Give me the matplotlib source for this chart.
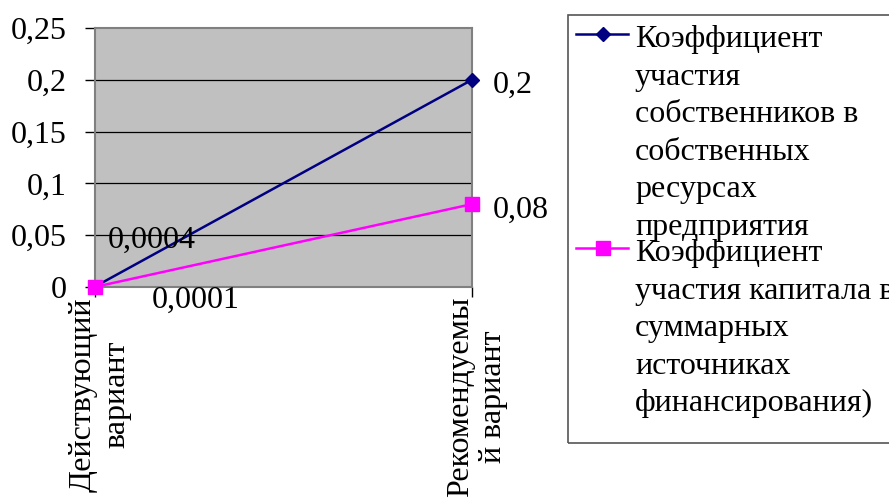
import matplotlib
matplotlib.use("Agg")
import matplotlib.pyplot as plt
from matplotlib.lines import Line2D
from matplotlib.patches import Rectangle
from matplotlib.ticker import FuncFormatter

plt.rcParams['font.family'] = ['Liberation Serif', 'DejaVu Serif']

categories = ["Действующий\nвариант", "Рекомендуемы\nй вариант"]
owners_share = [0.0004, 0.2]
capital_share = [0.0001, 0.08]
owners_labels = ["0,0004", "0,2"]
capital_labels = ["0,0001", "0,08"]
legend_owners = ["Коэффициент", "участия", "собственников в", "собственных",
                 "ресурсах", "предприятия"]
legend_capital = ["Коэффициент", "участия капитала в", "суммарных",
                  "источниках", "финансирования)"]

W, H = 889, 501
FS = 23
fig = plt.figure(figsize=(W / 100, H / 100), dpi=100)


def fx(px):
    return px / W


def fy(py):
    return 1 - py / H


ax = fig.add_axes([fx(95), fy(287), fx(472) - fx(95), fy(28) - fy(287)])
ax.set_facecolor("#C0C0C0")
for s in ax.spines.values():
    s.set_color("#808080")
    s.set_linewidth(1.5)

x = list(range(len(categories)))
ax.plot(x, owners_share, color="#000080", lw=1.8, marker="D", ms=7.5,
        clip_on=False, zorder=4)
ax.plot(x, capital_share, color="#FF00FF", lw=1.8, marker="s", ms=9.5,
        clip_on=False, zorder=4)

ax.set_xlim(0, 1)
ax.set_ylim(0, 0.25)
ax.set_yticks([0, 0.05, 0.1, 0.15, 0.2, 0.25])
ax.yaxis.set_major_formatter(FuncFormatter(lambda v, p: f"{v:g}".replace(".", ",")))
for yv in [0.05, 0.1, 0.15, 0.2]:
    ax.axhline(yv, color="black", lw=0.9, zorder=1)

ax.set_xticks(x)
ax.set_xticklabels([])
ax.tick_params(axis="x", length=7, width=1, color="black")
ax.tick_params(axis="y", length=7, width=1, color="black", pad=13.5, labelsize=FS)

# category names, rotated, hanging below the ticks
for i in x:
    ax.annotate(categories[i], (x[i], 0), xycoords=("data", "axes fraction"),
                xytext=(5, -10), textcoords="offset pixels", rotation=90,
                ha="center", va="top", multialignment="center", linespacing=1.2,
                fontsize=FS, annotation_clip=False)

# value labels next to the points
offsets_owners = [(9.5, 28), (15, -9.4)]
offsets_capital = [(41, -15), (15, -10)]
for i in x:
    ax.annotate(owners_labels[i], (x[i], owners_share[i]), xytext=offsets_owners[i],
                textcoords="offset points", ha="left", va="baseline",
                fontsize=FS, annotation_clip=False, zorder=5)
    ax.annotate(capital_labels[i], (x[i], capital_share[i]), xytext=offsets_capital[i],
                textcoords="offset points", ha="left", va="baseline",
                fontsize=FS, annotation_clip=False, zorder=5)

# legend box drawn by hand, text wraps line by line
fig.patches.append(Rectangle((fx(568), fy(443)), fx(940) - fx(568), fy(15) - fy(443),
                             transform=fig.transFigure, fill=False,
                             edgecolor="#555555", lw=1.2))
fig.lines.append(Line2D([fx(576), fx(628)], [fy(34), fy(34)], color="#000080",
                        lw=1.8, transform=fig.transFigure))
fig.lines.append(Line2D([fx(603)], [fy(34)], color="#000080", marker="D", ms=7.5,
                        transform=fig.transFigure))
fig.lines.append(Line2D([fx(576), fx(628)], [fy(248), fy(248)], color="#FF00FF",
                        lw=1.8, transform=fig.transFigure))
fig.lines.append(Line2D([fx(603)], [fy(248)], color="#FF00FF", marker="s", ms=9.5,
                        transform=fig.transFigure))

step = 37.5
for k, line in enumerate(legend_owners):
    fig.text(fx(635), fy(36 + k * step), line, fontsize=FS, va="center_baseline")
for k, line in enumerate(legend_capital):
    fig.text(fx(635), fy(250 + k * step), line, fontsize=FS, va="center_baseline")

fig.savefig("out.png", dpi=100)
